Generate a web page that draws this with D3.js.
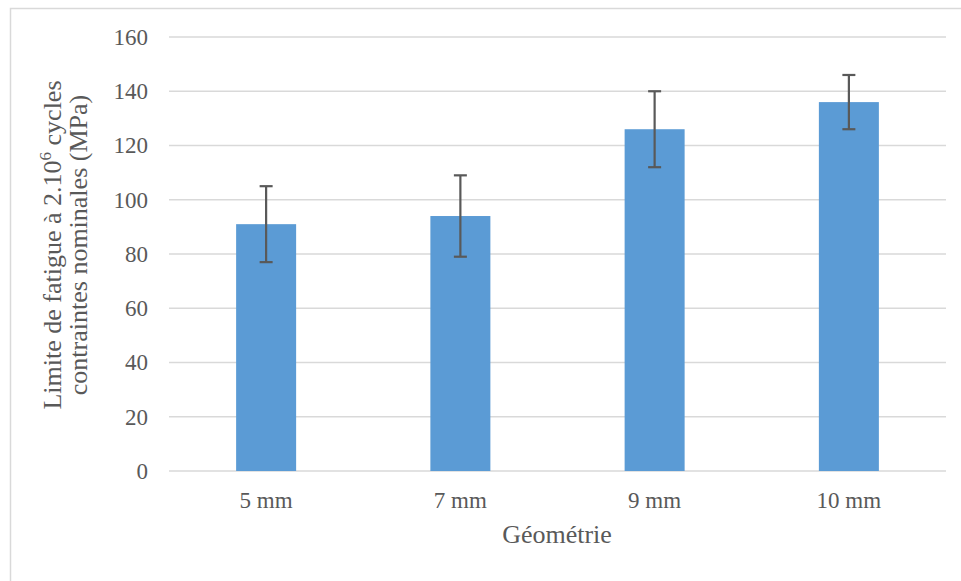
<!DOCTYPE html>
<html><head><meta charset="utf-8">
<script src="https://cdn.jsdelivr.net/npm/d3@7"></script>
<style>body{margin:0;background:#fff;} svg{display:block;}</style>
</head><body>
<svg id="c" width="961" height="581"></svg>
<script>
const categories = ["5 mm", "7 mm", "9 mm", "10 mm"];
const values = [91, 94, 126, 136];
const errors = [14, 15, 14, 10];
const yTicks = [0, 20, 40, 60, 80, 100, 120, 140, 160];

const svg = d3.select("#c");
const font = "'Liberation Serif','Times New Roman',serif";
const m = {l: 169, r: 946, t: 37, b: 471};

svg.append("rect").attr("x", 10.5).attr("y", 8.5).attr("width", 960).attr("height", 580)
  .attr("fill", "#fff").attr("stroke", "#d9d9d9").attr("stroke-width", 1.5);

const x = d3.scaleBand().domain(categories).range([m.l, m.r]).paddingInner(0).paddingOuter(0);
const y = d3.scaleLinear().domain([0, 160]).range([m.b, m.t]);

// gridlines
svg.append("g").selectAll("line").data(yTicks).join("line")
  .attr("x1", m.l).attr("x2", m.r).attr("y1", d => y(d)).attr("y2", d => y(d))
  .attr("stroke", "#d9d9d9").attr("stroke-width", 1.5);

// y axis
const ya = svg.append("g").attr("transform", `translate(${m.l},0)`)
  .call(d3.axisLeft(y).tickValues(yTicks).tickSize(0).tickPadding(21));
ya.select(".domain").remove();
ya.attr("font-family", font).attr("font-size", 23);
ya.selectAll("text").attr("font-family", font).attr("font-size", 23).attr("fill", "#595959");

// bars
const bw = 60;
svg.append("g").selectAll("rect").data(categories).join("rect")
  .attr("x", d => x(d) + x.bandwidth()/2 - bw/2).attr("width", bw)
  .attr("y", (d,i) => y(values[i])).attr("height", (d,i) => y(0) - y(values[i]))
  .attr("fill", "#5B9BD5");

// error bars
const eg = svg.append("g").attr("stroke", "#595959").attr("stroke-width", 2.2);
categories.forEach((c, i) => {
  const cx = x(c) + x.bandwidth()/2;
  eg.append("line").attr("x1", cx).attr("x2", cx).attr("y1", y(values[i]+errors[i])).attr("y2", y(values[i]-errors[i]));
  [values[i]+errors[i], values[i]-errors[i]].forEach(v => {
    eg.append("line").attr("x1", cx-6.5).attr("x2", cx+6.5).attr("y1", y(v)).attr("y2", y(v));
  });
});

// x axis
const xa = svg.append("g").attr("transform", `translate(0,${m.b})`)
  .call(d3.axisBottom(x).tickSize(0).tickPadding(21));
xa.select(".domain").remove();
xa.attr("font-family", font).attr("font-size", 23);
xa.selectAll("text").attr("font-family", font).attr("font-size", 23).attr("fill", "#595959");

// x title
svg.append("text").attr("x", 557).attr("y", 543).attr("text-anchor", "middle")
  .attr("font-family", font).attr("font-size", 26).attr("fill", "#595959").text("Géométrie");

// y title
const yt = svg.append("text")
  .attr("font-family", font).attr("font-size", 26).attr("fill", "#595959").attr("text-anchor", "middle");
const l1 = yt.append("tspan").attr("x", 0).attr("y", 0);
l1.append("tspan").text("Limite de fatigue à 2.10");
l1.append("tspan").attr("font-size", 17).attr("dy", -10).text("6");
l1.append("tspan").attr("dy", 10).text(" cycles");
yt.append("tspan").attr("x", 0).attr("y", 26).text("contraintes nominales (MPa)");
yt.attr("transform", "translate(61,245) rotate(-90)");
</script>
</body></html>
